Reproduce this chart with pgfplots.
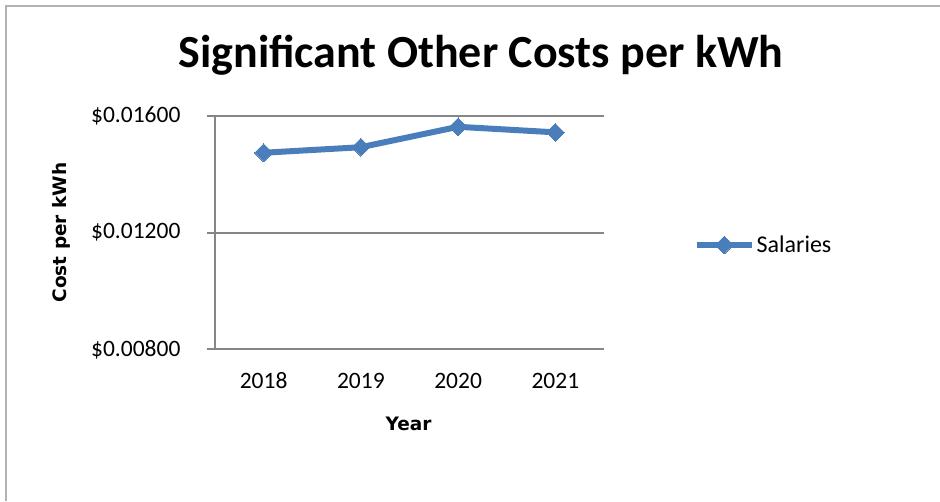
\documentclass[border=0pt]{standalone}
\usepackage{fontspec}
\setmainfont{Carlito}
\newfontfamily\djv{DejaVu Sans}
\usepackage{pgfplots}
\pgfplotsset{compat=1.18}
\definecolor{ser}{RGB}{74,126,187}
\definecolor{gridc}{RGB}{134,134,134}
\begin{document}
\begin{tikzpicture}[x=1pt,y=1pt]
\path[use as bounding box] (0,0) rectangle (940,501);
\draw[color=gray!60, line width=1.2pt] (6,0) -- (6,495) -- (940,495);
\node[font=\fontsize{46}{50}\selectfont\bfseries] at (481,446) {Significant Other Costs per kWh};
\node[font=\djv\fontsize{18.5}{22}\selectfont\bfseries, rotate=90] at (61,268.5) {Cost per kWh};
\node[font=\djv\fontsize{18.5}{22}\selectfont\bfseries] at (408.5,77) {Year};
\begin{axis}[
  at={(215pt,151.7pt)}, anchor=south west,
  scale only axis, width=389pt, height=233.3pt,
  xmin=-0.5, xmax=3.5, ymin=0.008, ymax=0.016,
  scaled y ticks=false,
  axis lines*=left,
  axis line style={gridc, line width=2pt},
  xtick={0,1,2,3}, xticklabels={2018,2019,2020,2021},
  ytick={0.008,0.012,0.016},
  yticklabels={\$0.00800,\$0.01200,\$0.01600},
  ymajorgrids, grid style={gridc, line width=2pt},
  xtick style={draw=none},
  ytick style={gridc, line width=2pt},
  major tick length=8pt, tick align=outside,
  tick label style={font=\fontsize{23.5}{27}\selectfont},
  xticklabel style={yshift=-12pt},
  yticklabel style={xshift=-23pt},
  clip=false,
  legend style={at={(1.23,0.447)}, anchor=west, draw=none, fill=none,
    font=\fontsize{24}{28}\selectfont, inner sep=0pt},
  legend cell align=left,
  legend image code/.code={\draw[mark repeat=2,mark phase=2,#1] plot coordinates {(0pt,0pt) (27.5pt,0pt) (55pt,0pt)};},
]
\addplot[color=ser, line width=6pt, mark=square*, mark size=6.3pt,
  mark options={rotate=45, fill=ser, draw=ser, line width=0pt}]
  coordinates {(0,0.01474) (1,0.01493) (2,0.01563) (3,0.01544)};
\addlegendentry{Salaries}
\end{axis}
\end{tikzpicture}
\end{document}
